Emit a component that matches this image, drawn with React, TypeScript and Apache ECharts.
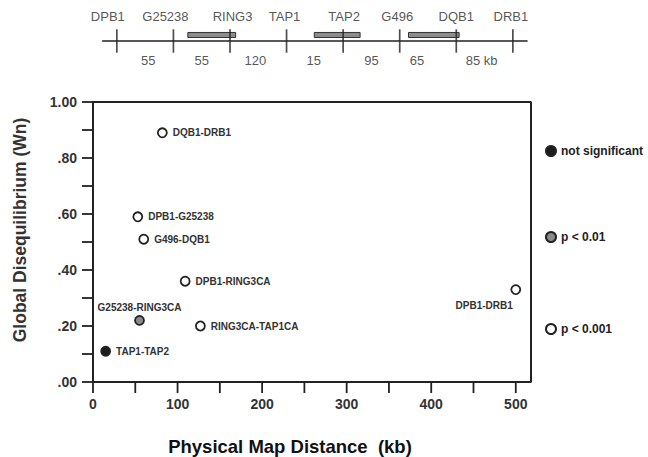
import React, { useEffect, useRef } from "react";
import * as echarts from "echarts";

// ---- Physical map (schematic) ----
const loci = ["DPB1", "G25238", "RING3", "TAP1", "TAP2", "G496", "DQB1", "DRB1"];
const intervalLabels = ["55", "55", "120", "15", "95", "65", "85 kb"];
// gene bodies drawn on the schematic, in locus-index units
const geneStart = [1.255, 3.49, 5.155];
const geneEnd = [2.1, 4.3, 6.05];

// ---- Scatter data ----
const pairNames = [
  "DQB1-DRB1",
  "DPB1-G25238",
  "G496-DQB1",
  "DPB1-RING3CA",
  "G25238-RING3CA",
  "RING3CA-TAP1CA",
  "TAP1-TAP2",
  "DPB1-DRB1",
];
const distanceKb = [82, 53, 60, 109, 55, 127, 15, 500];
const wn = [0.89, 0.59, 0.51, 0.36, 0.22, 0.2, 0.11, 0.33];
const significance = [
  "p < 0.001",
  "p < 0.001",
  "p < 0.001",
  "p < 0.001",
  "p < 0.01",
  "p < 0.001",
  "not significant",
  "p < 0.001",
];
const groups = ["not significant", "p < 0.01", "p < 0.001"];
const xMin = 0;
const xMax = 518;
const yMin = 0;
const yMax = 1;
const xTickStep = 50;
const xLabelStep = 100;
const yTickStep = 0.1;
const yLabelStep = 0.2;
const xTickValues = [0, 50, 100, 150, 200, 250, 300, 350, 400, 450, 500];
const yTickValues = [0, 0.1, 0.2, 0.3, 0.4, 0.5, 0.6, 0.7, 0.8, 0.9, 1.0];

// styling only
const FONT = "'Liberation Sans', Arial, Helvetica, sans-serif";
const INK = "#222";
const TICK_LEN = 11;
const groupFill: Record<string, string> = {
  "not significant": "#1c1c1c",
  "p < 0.01": "#8a8a8a",
  "p < 0.001": "#ffffff",
};
const locusNudge = [-9, -8, 2.6, -2, 1, -2.5, 0, -2];
const intervalNudge = [3, 0, -3, -1, 0, -11, -3];
const labelPlacement: Record<string, any> = {
  "G25238-RING3CA": { position: "top", distance: 3 },
  "DPB1-DRB1": { position: "bottom", distance: 5, align: "right", offset: [-3, 0] },
};
const legendTops = [145, 231, 323];

const isMultiple = (v: number, step: number) => {
  const r = v / step;
  return Math.abs(r - Math.round(r)) < 1e-6;
};

export default function App() {
  const ref = useRef<HTMLDivElement>(null);
  useEffect(() => {
    if (!ref.current) return;
    const chart = echarts.init(ref.current, null, { renderer: "svg" });

    const scatterSeries = groups.map((g) => ({
      type: "scatter",
      name: g,
      xAxisIndex: 0,
      yAxisIndex: 0,
      symbol: "circle",
      symbolSize: 9,
      z: 5,
      itemStyle: { color: groupFill[g], borderColor: INK, borderWidth: 1.8, opacity: 1 },
      label: {
        show: true,
        position: "right",
        distance: 5,
        formatter: "{b}",
        fontFamily: FONT,
        fontSize: 10,
        fontWeight: "bold",
        color: "#333",
      },
      emphasis: { disabled: true },
      data: pairNames
        .map((n, i) => ({ n, i }))
        .filter(({ i }) => significance[i] === g)
        .map(({ n, i }) => ({
          name: n,
          value: [distanceKb[i], wn[i]],
          label: labelPlacement[n] || undefined,
        })),
    }));

    const option: any = {
      animation: false,
      backgroundColor: "#ffffff",
      textStyle: { fontFamily: FONT },
      legend: groups.map((g, k) => ({
        data: [g],
        left: 545,
        top: legendTops[k],
        padding: 0,
        orient: "vertical",
        icon: "circle",
        itemWidth: 10,
        itemHeight: 10,
        itemGap: 3,
        selectedMode: false,
        textStyle: {
          fontFamily: FONT,
          fontSize: 12,
          fontWeight: "bold",
          color: INK,
        },
      })),
      grid: [
        { left: 93, top: 102, width: 438, height: 280, outerBoundsMode: "none" },
        { left: 102.7, top: 29.3, width: 424.3, height: 23.4, outerBoundsMode: "none" },
      ],
      xAxis: [
        {
          type: "value",
          gridIndex: 0,
          min: xMin,
          max: xMax,
          interval: xTickStep,
          name: "Physical Map Distance  (kb)",
          nameLocation: "middle",
          nameGap: 55,
          nameTextStyle: {
            fontFamily: FONT,
            fontSize: 18.5,
            fontWeight: "bold",
            color: "#111",
            padding: [0, 44, 0, 0],
          },
          axisLine: { show: false },
          axisTick: { show: false },
          axisLabel: {
            margin: 15,
            fontFamily: FONT,
            fontSize: 14,
            fontWeight: "bold",
            color: "#333",
            showMaxLabel: false,
            formatter: (v: number) => (isMultiple(v, xLabelStep) ? String(v) : ""),
          },
          splitLine: { show: false },
        },
        {
          type: "value",
          gridIndex: 1,
          min: -0.25,
          max: 7.25,
          axisLine: { show: true, onZero: true, lineStyle: { color: INK, width: 1.6 } },
          axisTick: { show: false },
          axisLabel: { show: false },
          splitLine: { show: false },
        },
      ],
      yAxis: [
        {
          type: "value",
          gridIndex: 0,
          min: yMin,
          max: yMax,
          interval: yTickStep,
          name: "Global Disequilibrium (Wn)",
          nameLocation: "middle",
          nameRotate: 90,
          nameGap: 64,
          nameTextStyle: {
            fontFamily: FONT,
            fontSize: 17.5,
            fontWeight: "bold",
            color: "#333",
            padding: [0, 0, 0, 24],
          },
          axisLine: { show: false },
          axisTick: { show: false },
          axisLabel: {
            margin: 16,
            fontFamily: FONT,
            fontSize: 14,
            fontWeight: "bold",
            color: "#333",
            formatter: (v: number) =>
              isMultiple(v, yLabelStep) ? v.toFixed(2).replace(/^0/, "") : "",
          },
          splitLine: { show: false },
        },
        {
          type: "value",
          gridIndex: 1,
          min: -1,
          max: 1,
          show: false,
        },
      ],
      series: [
        ...scatterSeries,
        {
          type: "line",
          name: "frame",
          xAxisIndex: 0,
          yAxisIndex: 0,
          silent: true,
          z: 100,
          symbol: "none",
          showSymbol: false,
          lineStyle: { color: INK, width: 2 },
          emphasis: { disabled: true },
          data: [
            [xMin, yMin],
            [xMin, yMax],
            [xMax, yMax],
            [xMax, yMin],
            [xMin, yMin],
          ],
        },
        {
          type: "custom",
          name: "genes",
          xAxisIndex: 1,
          yAxisIndex: 1,
          silent: true,
          data: geneStart.map((s, i) => [s, geneEnd[i]]),
          renderItem: (params: any, api: any) => {
            const p0 = api.coord([api.value(0), 0.73]);
            const p1 = api.coord([api.value(1), 0.3]);
            return {
              type: "rect",
              shape: { x: p0[0], y: p0[1], width: p1[0] - p0[0], height: p1[1] - p0[1] },
              style: { fill: "#8c8c8c", stroke: "#333", lineWidth: 1 },
            };
          },
        },
        {
          type: "scatter",
          name: "loci",
          xAxisIndex: 1,
          yAxisIndex: 1,
          silent: true,
          symbol: "rect",
          symbolSize: [1.7, 23.4],
          itemStyle: { color: INK },
          label: {
            show: true,
            position: "top",
            distance: 6,
            formatter: "{b}",
            fontFamily: FONT,
            fontSize: 13,
            color: "#2a2a2a",
          },
          data: loci.map((n, i) => ({
            name: n,
            value: [i, 0],
            label: { offset: [locusNudge[i], 0] },
          })),
        },
        {
          type: "scatter",
          name: "intervals",
          xAxisIndex: 1,
          yAxisIndex: 1,
          silent: true,
          symbolSize: 1,
          itemStyle: { color: "rgba(0,0,0,0)" },
          label: {
            show: true,
            position: "bottom",
            distance: 12,
            formatter: "{b}",
            fontFamily: FONT,
            fontSize: 13,
            color: "#2a2a2a",
          },
          data: intervalLabels.map((n, i) => ({
            name: n,
            value: [i + 0.5, 0],
            label: { offset: [intervalNudge[i], 0] },
          })),
        },
      ],
    };

    chart.setOption(option);

    // axis frame and ticks, positioned through the chart's own scales
    try {
      const px = (v: number[]) => chart.convertToPixel({ gridIndex: 0 }, v) as number[];
      const lineStyle = { stroke: INK, lineWidth: 2 };
      const tl = px([xMin, yMax]);
      const br = px([xMax, yMin]);
      const elements: any[] = [
        { type: "line", z: 100, shape: { x1: tl[0], y1: tl[1], x2: br[0], y2: tl[1] }, style: lineStyle },
        { type: "line", z: 100, shape: { x1: tl[0], y1: br[1], x2: br[0], y2: br[1] }, style: lineStyle },
        { type: "line", z: 100, shape: { x1: tl[0], y1: tl[1], x2: tl[0], y2: br[1] }, style: lineStyle },
        { type: "line", z: 100, shape: { x1: br[0], y1: tl[1], x2: br[0], y2: br[1] }, style: lineStyle },
      ];
      xTickValues.forEach((v) => {
        const p = px([v, yMin]);
        elements.push({
          type: "line",
          z: 100,
          shape: { x1: p[0], y1: p[1], x2: p[0], y2: p[1] + TICK_LEN },
          style: { stroke: INK, lineWidth: 1.8 },
        });
      });
      yTickValues.forEach((v) => {
        const p = px([xMin, v]);
        elements.push({
          type: "line",
          z: 100,
          shape: { x1: p[0] - TICK_LEN, y1: p[1], x2: p[0], y2: p[1] },
          style: { stroke: INK, lineWidth: 1.8 },
        });
      });
      chart.setOption({ graphic: { elements } });
    } catch (e) {
      // keep the chart as drawn
    }

    return () => chart.dispose();
  }, []);

  return (
    <div
      ref={ref}
      style={{ position: "fixed", left: 0, top: 0, width: 648, height: 457, background: "#fff" }}
    />
  );
}
